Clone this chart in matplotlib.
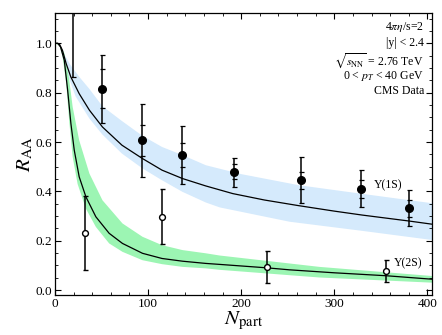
import numpy as np
import matplotlib
matplotlib.use("Agg")
import matplotlib.pyplot as plt
from matplotlib.ticker import MultipleLocator

plt.rcParams['font.family'] = ['Liberation Serif', 'DejaVu Serif']
plt.rcParams['mathtext.fontset'] = 'stix'

# ─── 理论曲线 Υ(1S) ─────────────────────────────
n_1s = [0, 3, 5, 8, 12, 17, 26, 37, 51, 72, 94, 115, 137, 162, 191, 225, 262, 300, 330, 380, 405]
r_1s = [1.0, 1.0, 0.995, 0.972, 0.918, 0.864, 0.796, 0.729, 0.661, 0.587, 0.533, 0.486,
        0.452, 0.422, 0.391, 0.365, 0.342, 0.320, 0.304, 0.280, 0.267]
n_1s_up = [0, 5, 10, 17, 27, 37, 51, 72, 94, 115, 137, 162, 200, 262, 330, 405]
r_1s_up = [1.0, 0.99, 0.955, 0.91, 0.86, 0.815, 0.745, 0.685, 0.625, 0.58, 0.547, 0.506,
           0.47, 0.425, 0.39, 0.352]
n_1s_lo = [0, 5, 10, 15, 22, 37, 51, 72, 94, 115, 137, 162, 177, 252, 330, 405]
r_1s_lo = [1.0, 0.99, 0.93, 0.86, 0.786, 0.695, 0.630, 0.553, 0.493, 0.445, 0.398, 0.355,
           0.335, 0.277, 0.24, 0.203]

# ─── 理论曲线 Υ(2S) ─────────────────────────────
n_2s = [0, 3, 6, 10, 13.6, 17.1, 20.7, 26, 33.2, 43.9, 58.2, 72.5, 94, 115, 137, 162, 177,
        228, 252, 300, 356, 405]
r_2s = [1.0, 1.0, 0.985, 0.931, 0.81, 0.675, 0.567, 0.459, 0.378, 0.297, 0.23, 0.189, 0.149,
        0.128, 0.117, 0.108, 0.104, 0.090, 0.082, 0.070, 0.058, 0.044]
n_2s_up = [0, 5, 10, 15, 19, 26, 37, 51, 72.5, 94, 115, 137, 162, 177, 284, 405]
r_2s_up = [1.0, 0.995, 0.96, 0.86, 0.742, 0.607, 0.472, 0.364, 0.27, 0.216, 0.182, 0.162,
           0.149, 0.14, 0.094, 0.057]
n_2s_lo = [0, 5, 8, 12, 15.4, 19, 24.3, 33.2, 43.9, 58.2, 72.5, 94, 115, 137, 162, 177, 284, 405]
r_2s_lo = [1.0, 0.99, 0.95, 0.84, 0.68, 0.54, 0.43, 0.33, 0.256, 0.189, 0.155, 0.121, 0.105,
           0.094, 0.088, 0.082, 0.051, 0.030]

# ─── CMS 数据点 ─────────────────────────────────
npart_1s = [19, 51, 94, 136, 192, 264, 329, 380]
raa_1s = [1.25, 0.816, 0.607, 0.547, 0.479, 0.445, 0.41, 0.331]
err_1s_hi = [0.30, 0.138, 0.146, 0.12, 0.057, 0.095, 0.076, 0.074]
err_1s_lo = [0.386, 0.137, 0.148, 0.119, 0.061, 0.094, 0.075, 0.071]
sys_1s = [0.10, 0.08, 0.064, 0.048, 0.03, 0.035, 0.035, 0.035]

npart_2s = [32, 115, 228, 356]
raa_2s = [0.23, 0.297, 0.093, 0.077]
err_2s_hi = [0.151, 0.111, 0.065, 0.044]
err_2s_lo = [0.149, 0.112, 0.065, 0.046]

c_blue = '#d5eafc'
c_green = '#9cf5b3'

fig = plt.figure(figsize=(4.42, 3.35), dpi=100)
ax = fig.add_axes([0.1244, 0.1194, 0.8530, 0.8418])

# 带
ax.fill(n_1s_up + n_1s_lo[::-1], r_1s_up + r_1s_lo[::-1], color=c_blue, lw=0, zorder=1)
ax.fill(n_2s_up + n_2s_lo[::-1], r_2s_up + r_2s_lo[::-1], color=c_green, lw=0, zorder=1)

ax.plot(n_1s, r_1s, color='black', lw=0.9, zorder=2)
ax.plot(n_2s, r_2s, color='black', lw=0.9, zorder=2)

# 数据
ax.errorbar(npart_1s, raa_1s, yerr=[err_1s_lo, err_1s_hi], fmt='o', color='black',
            ms=5.5, elinewidth=1.1, capsize=1.8, capthick=0.9, zorder=4)
ax.errorbar(npart_1s, raa_1s, yerr=sys_1s, fmt='none', ecolor='black',
            elinewidth=0, capsize=1.8, capthick=0.9, zorder=4)
ax.errorbar(npart_2s, raa_2s, yerr=[err_2s_lo, err_2s_hi], fmt='o', color='black',
            mfc='white', mec='black', mew=1.0, ms=4.2, elinewidth=1.1, capsize=1.8,
            capthick=0.9, zorder=4)

ax.set_xlim(0, 405)
ax.set_ylim(-0.02, 1.123)

ax.xaxis.set_major_locator(MultipleLocator(100))
ax.xaxis.set_minor_locator(MultipleLocator(20))
ax.yaxis.set_major_locator(MultipleLocator(0.2))
ax.yaxis.set_minor_locator(MultipleLocator(0.05))
ax.yaxis.set_major_formatter(plt.FuncFormatter(lambda v, p: f'{v:.1f}'))
ax.tick_params(which='both', direction='in', top=True, right=True, labelsize=9.5, pad=2)
ax.tick_params(which='major', length=4, width=0.8)
ax.tick_params(which='minor', length=2, width=0.6)
for s in ax.spines.values():
    s.set_linewidth(0.9)

ax.set_xlabel(r'$N_{\mathrm{part}}$', fontsize=15, labelpad=0)
ax.set_ylabel(r'$R_{\mathrm{AA}}$', fontsize=15, labelpad=0)

# 注释文字
info = [r'4$\pi\eta$/s=2', '|y| < 2.4', r'$\sqrt{s_{\mathrm{NN}}}$ = 2.76 TeV',
        r'0 < $p_T$ < 40 GeV', 'CMS Data']
ys = [27, 43, 61, 76, 91]
for t, yp in zip(info, ys):
    fig.text(424 / 442, 1 - yp / 335, t, ha='right', va='center', fontsize=8.5)

ax.text(342, 0.425, 'Υ(1S)', fontsize=8.5, va='center', ha='left')
ax.text(364, 0.107, 'Υ(2S)', fontsize=8.5, va='center', ha='left')

fig.savefig('out.png', dpi=100)
